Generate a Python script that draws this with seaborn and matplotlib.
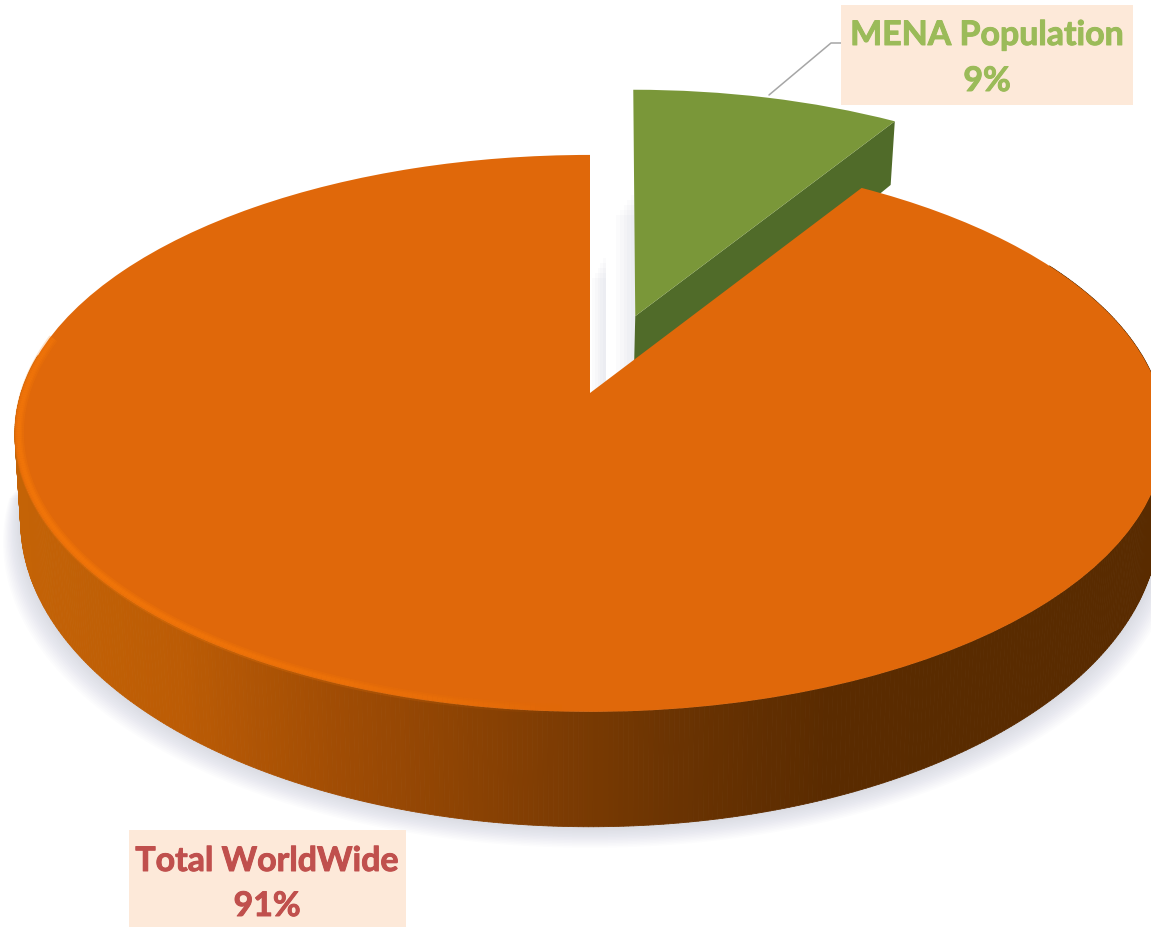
import numpy as np
import pandas as pd
import matplotlib
matplotlib.use("Agg")
import matplotlib.pyplot as plt
import matplotlib.patheffects as pe
from matplotlib.collections import LineCollection, PolyCollection
from matplotlib.patches import Polygon, Rectangle
from matplotlib.transforms import Affine2D, Transform
import seaborn as sns

labels = ["Total WorldWide", "MENA Population"]
shares = [91, 9]
top_colors = ["#E0680A", "#7A9739"]
text_colors = ["#C0504D", "#9BBB59"]

df = pd.DataFrame({"label": labels, "share": shares})

sns.set_theme(style="white")
plt.rcParams["font.family"] = ["Lato", "DejaVu Sans"]

# pie camera, unit pie -> pixels
CX, CY = 590, 393
RX, RY = 569, 272.6
K = 0.145
DEPTH = 84


def project(xy):
    xy = np.asarray(xy, dtype=float)
    w = 1 + K * xy[..., 1]
    return np.stack([CX + RX * xy[..., 0] / w, CY - RY * xy[..., 1] / w], axis=-1)


def drop(xy):
    # same points on the underside of the disc
    p = project(xy)
    w = 1 + K * np.asarray(xy)[..., 1]
    return np.stack([CX + (p[..., 0] - CX) * 0.99, p[..., 1] + DEPTH / w ** 2], axis=-1)


class Camera(Transform):
    input_dims = 2
    output_dims = 2

    def transform_non_affine(self, values):
        return project(values)


def rim(wedge, t1, t2, n=200):
    t = np.radians(np.linspace(t1, t2, n))
    c = np.array(wedge.center)
    return c + wedge.r * np.column_stack([np.cos(t), np.sin(t)])


fig, ax = plt.subplots(figsize=(11.51, 9.27), dpi=100)
fig.subplots_adjust(0, 0, 1, 1)

wedges, _ = ax.pie(df["share"], explode=[0, 0.32], startangle=90, colors=top_colors,
                   wedgeprops={"linewidth": 0})
orange, green = wedges
# green slice stands a bit straighter than the camera gives
nudge = Affine2D.from_values(1, 0, -0.018, 1.032, 2.25, -6.66)
orange.set_transform(Camera() + ax.transData)
green.set_transform(Camera() + nudge + ax.transData)
orange.set_zorder(5)
green.set_zorder(3)

ax.set_aspect("auto")
ax.set_xlim(0, 1151)
ax.set_ylim(927, 0)
ax.axis("off")

# soft shadow under the disc
low = rim(orange, 180, 360, 300)
for i in range(1, 15):
    pts = drop(low)
    pts[:, 0] = CX + (pts[:, 0] - CX) * (1 + i * 0.0022)
    pts[:, 1] += i * 1.5
    ax.add_patch(Polygon(pts, closed=True, fc="#9296AA", ec="none", alpha=0.022, zorder=1))

# faint shadow in the gap between the slices
for x0, x1, y0, y1 in [(616, 635, 190, 392), (592, 606, 253, 392)]:
    for f in np.linspace(0, 0.8, 5):
        ax.add_patch(Rectangle((x0 + (x1 - x0) * f, y0 + 25 * (1 - f)), (x1 - x0) * (1 - f),
                               y1 - y0 - 25 * (1 - f), fc="#B8BCD0", ec="none", alpha=0.05, zorder=1))

# cut wall of the green slice
edge = rim(green, green.theta1, green.theta1, 1)
apex = np.array([green.center])
wall = nudge.transform(np.vstack([project(apex), project(edge), drop(edge), drop(apex)]))
ax.add_patch(Polygon(wall, closed=True, fc="#506B29", ec="none", zorder=2))

# orange side, shaded left to right
ring = rim(orange, 172, 390, 500)
up, down = project(ring), drop(ring)
quads = [[up[i], up[i + 1], down[i + 1], down[i]] for i in range(len(ring) - 1)]
shade = sns.blend_palette(["#C46306", "#BC5C05", "#A04C04", "#864003", "#6C3402", "#5A2B00", "#592B00", "#592B00"],
                          256)
mid = (up[:-1, 0] + up[1:, 0]) / 2
idx = np.clip(((mid - 15) / (1151 - 15) * 255).astype(int), 0, 255)
face = [shade[i] for i in idx]
ax.add_collection(PolyCollection(quads, facecolors=face, edgecolors=face, linewidths=0.6, zorder=4))

# lighter bevel along the front left edge, soft so a few widths stacked
arc = project(rim(orange, 168, 268, 220) * 0.993)
segs = np.stack([arc[:-1], arc[1:]], axis=1)
fade = np.sin(np.linspace(0.2, 1, len(segs)) * np.pi) ** 0.7
rgba = np.zeros((len(segs), 4))
rgba[:, :3] = matplotlib.colors.to_rgb("#F87A08")
for lw, a in [(7, 0.3), (4.5, 0.35), (2.5, 0.4)]:
    rgba[:, 3] = fade * a
    ax.add_collection(LineCollection(segs, colors=rgba.copy(), linewidths=lw, zorder=6, capstyle="butt"))

# labels
boxes = [(129, 830, 277, 97), (841, 5, 292, 100)]
spots = [(267, 861, 906), (987, 35, 81)]
heavy = [pe.withStroke(linewidth=0.7, foreground=c) for c in text_colors]
for row, box, spot, col, fx in zip(df.itertuples(), boxes, spots, text_colors, heavy):
    ax.add_patch(Rectangle(box[:2], box[2], box[3], fc="#FDE9D9", ec="none", zorder=7))
    ax.text(spot[0], spot[1], row.label, color=col, fontsize=24.4, fontweight="bold",
            ha="center", va="center", zorder=8, path_effects=[fx])
    ax.text(spot[0], spot[2], f"{row.share}%", color=col, fontsize=24.4, fontweight="bold",
            ha="center", va="center", zorder=8, path_effects=[fx])

ax.plot([769, 831, 841], [95, 43, 43], color="#A6A6A6", lw=1.1, zorder=6)

fig.savefig("out.png", dpi=100)
